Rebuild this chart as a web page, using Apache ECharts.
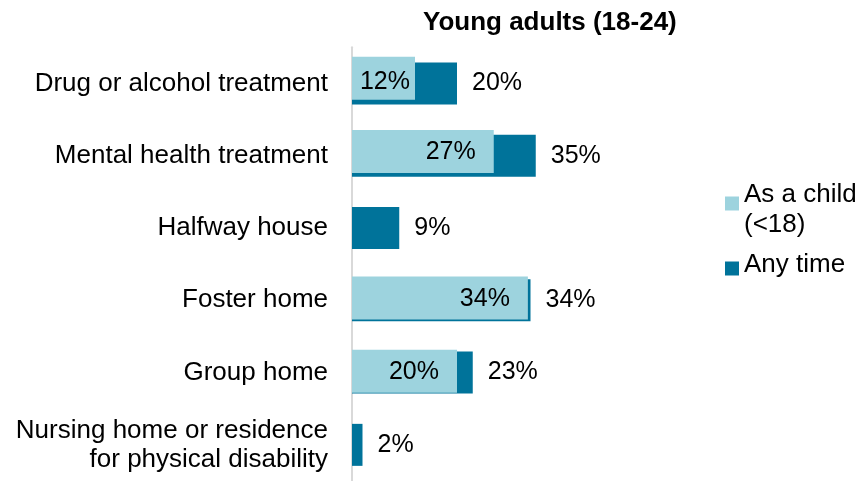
<!DOCTYPE html>
<html>
<head>
<meta charset="utf-8">
<script src="https://cdn.jsdelivr.net/npm/echarts@6/dist/echarts.min.js"></script>
<style>
  html, body { margin: 0; padding: 0; background: #fff; }
  #chart { width: 861px; height: 481px; }
</style>
</head>
<body>
<div id="chart"></div>
<script>
const categories = [
  'Drug or alcohol treatment',
  'Mental health treatment',
  'Halfway house',
  'Foster home',
  'Group home',
  'Nursing home or residence\nfor physical disability'
];
// bar lengths; labels are the rounded percentages
const asChild = [12, 27, null, 33.5, 20, null];
const anyTime = [20, 35, 9, 34, 23, 2];

const FONT = '"Liberation Sans", Arial, sans-serif';
const LIGHT = '#9dd3de';
const DARK = '#00739a';

const chart = echarts.init(document.getElementById('chart'));

const option = {
  backgroundColor: '#fff',
  animation: false,
  title: {
    text: 'Young adults (18-24)',
    left: 423,
    top: 10,
    padding: 0,
    textStyle: { fontFamily: FONT, fontSize: 26, fontWeight: 'bold', color: '#000' }
  },
  legend: [
    {
      left: 725, top: 173, padding: 0,
      icon: 'rect', itemWidth: 14, itemHeight: 14,
      data: ['As a child'],
      formatter: () => '{s| }\n{a|As a child}\n{a|(<18)}',
      textStyle: {
        fontFamily: FONT, fontSize: 26, color: '#000',
        rich: {
          s: { fontSize: 1, lineHeight: 12 },
          a: { fontFamily: FONT, fontSize: 26, color: '#000', lineHeight: 30 }
        }
      }
    },
    {
      left: 725, top: 252, padding: 0,
      icon: 'rect', itemWidth: 14, itemHeight: 14,
      data: ['Any time'],
      formatter: () => '{a|Any time}\n{s| }',
      textStyle: {
        fontFamily: FONT, fontSize: 26, color: '#000',
        rich: {
          s: { fontSize: 1, lineHeight: 7 },
          a: { fontFamily: FONT, fontSize: 26, color: '#000', lineHeight: 30 }
        }
      }
    }
  ],
  grid: [
    { left: 352, top: 47.25, width: 210, height: 441 },
    { left: 352, top: 41.75, width: 210, height: 441 }
  ],
  xAxis: [
    { gridIndex: 0, type: 'value', min: 0, max: 40, show: false },
    { gridIndex: 1, type: 'value', min: 0, max: 40, show: false }
  ],
  yAxis: [
    {
      gridIndex: 0, type: 'category', inverse: true, data: categories,
      axisLine: { show: true, lineStyle: { color: '#d9d9d9', width: 2 } },
      axisTick: { show: false },
      axisLabel: {
        margin: 24, fontFamily: FONT, fontSize: 26, color: '#000',
        lineHeight: 29, align: 'right', padding: [0, 0, 5, 0]
      }
    },
    { gridIndex: 1, type: 'category', inverse: true, data: categories, show: false }
  ],
  series: [
    {
      name: 'Any time', type: 'bar', xAxisIndex: 0, yAxisIndex: 0,
      data: anyTime, barWidth: 42, z: 2,
      itemStyle: { color: DARK },
      label: {
        show: true, position: 'right', distance: 15,
        fontFamily: FONT, fontSize: 25, color: '#000',
        formatter: p => Math.round(p.value) + '%'
      }
    },
    {
      name: 'As a child', type: 'bar', xAxisIndex: 1, yAxisIndex: 1,
      data: asChild.map((v, i) => (i === 0 ? { value: v, label: { distance: 5, offset: [0, 4] } } : v)),
      barWidth: 43, z: 3,
      itemStyle: { color: LIGHT },
      label: {
        show: true, position: 'insideRight', distance: 18, offset: [0, 1],
        fontFamily: FONT, fontSize: 25, color: '#000',
        formatter: p => (p.value == null ? '' : Math.round(p.value) + '%')
      }
    }
  ]
};

chart.setOption(option);
</script>
</body>
</html>
